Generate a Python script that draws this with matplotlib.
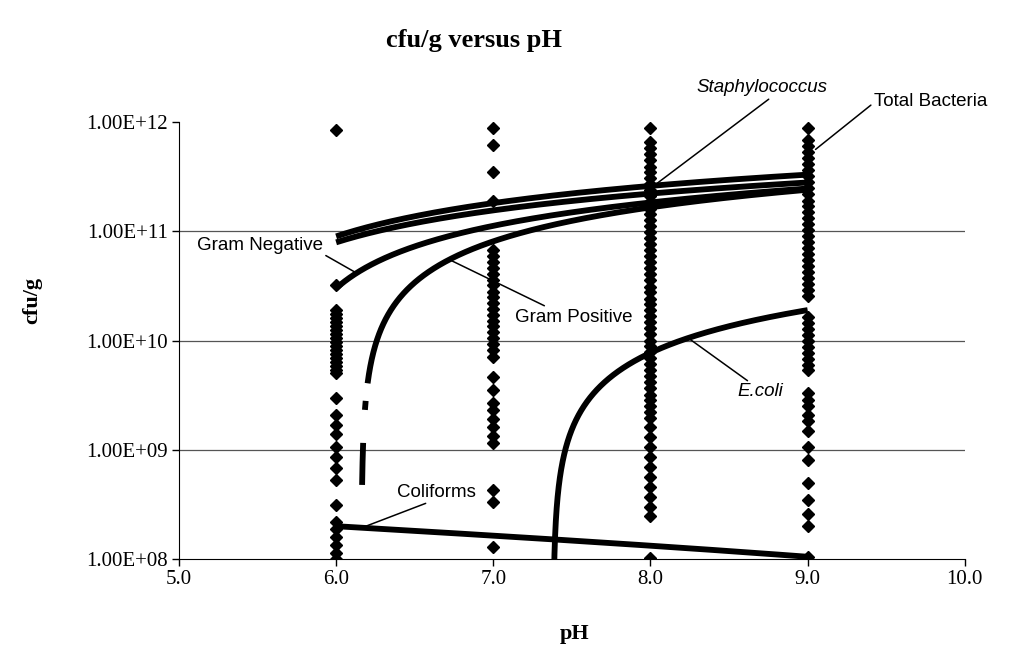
import numpy as np
import matplotlib
matplotlib.use("Agg")
import matplotlib.pyplot as plt
from matplotlib.ticker import FuncFormatter

# scatter data (cfu/g), one list per pH column
ph_values = [6.0, 7.0, 8.0, 9.0]
cfu_ph6 = [8.4e11, 3.2e10, 1.9e10, 1.75e10, 1.6e10, 1.47e10, 1.35e10, 1.25e10, 1.15e10,
           1.05e10, 9.7e9, 8.9e9, 8.2e9, 7.5e9, 6.9e9, 6.3e9, 5.8e9, 5.4e9, 5.0e9,
           3.0e9, 2.1e9, 1.7e9, 1.4e9, 1.06e9, 8.6e8, 6.8e8, 5.3e8, 3.1e8,
           2.2e8, 1.9e8, 1.6e8, 1.35e8, 1.13e8, 1.0e8]
cfu_ph7 = [8.8e11, 6.1e11, 3.5e11, 1.9e11,
           6.7e10, 5.9e10, 5.2e10, 4.6e10, 4.1e10, 3.6e10, 3.2e10, 2.8e10, 2.5e10,
           2.2e10, 1.95e10, 1.7e10, 1.5e10, 1.35e10, 1.2e10, 1.05e10, 9.3e9, 8.2e9, 7.0e9,
           4.6e9, 3.5e9, 2.7e9, 2.3e9, 1.9e9, 1.6e9, 1.35e9, 1.15e9,
           4.3e8, 3.3e8, 1.29e8]
cfu_ph8 = [8.8e11, 6.5e11, 5.8e11, 5.1e11, 4.5e11, 3.9e11, 3.5e11, 3.1e11, 2.7e11,
           2.4e11, 2.1e11, 1.85e11, 1.6e11, 1.43e11, 1.26e11, 1.11e11, 9.8e10, 8.6e10,
           7.6e10, 6.7e10, 5.9e10, 5.2e10, 4.6e10, 4.1e10, 3.6e10, 3.1e10, 2.8e10,
           2.4e10, 2.15e10, 1.9e10, 1.67e10, 1.47e10, 1.3e10, 1.15e10, 1.0e10, 8.9e9,
           7.8e9, 6.9e9, 6.1e9, 5.4e9, 4.7e9, 4.2e9, 3.7e9, 3.2e9, 2.85e9, 2.5e9,
           2.2e9, 1.95e9, 1.6e9, 1.3e9, 1.06e9, 8.6e8, 6.9e8, 5.6e8, 4.6e8, 3.7e8,
           3.0e8, 2.5e8, 1.02e8]
cfu_ph9 = [8.8e11, 6.8e11, 6.0e11, 5.3e11, 4.7e11, 4.1e11, 3.6e11, 3.2e11, 2.8e11,
           2.5e11, 2.2e11, 1.9e11, 1.7e11, 1.5e11, 1.32e11, 1.16e11, 1.02e11, 9.0e10,
           7.9e10, 7.0e10, 6.2e10, 5.4e10, 4.8e10, 4.2e10, 3.7e10, 3.3e10, 2.9e10,
           2.55e10, 1.64e10, 1.44e10, 1.27e10, 1.12e10, 9.9e9, 8.7e9, 7.7e9, 6.8e9,
           6.0e9, 5.4e9, 3.3e9, 2.85e9, 2.5e9, 2.1e9, 1.83e9, 1.5e9, 1.06e9, 8.1e8,
           5.0e8, 3.5e8, 2.6e8, 2.0e8, 1.04e8]

# logarithmic trend lines  y = slope*ln(pH) + intercept
trend_names = ["Total Bacteria", "Staphylococcus", "Gram Negative",
               "Gram Positive", "E.coli", "Coliforms"]
trend_slope = [5.92e11, 4.94e11, 5.33e11, 6.33e11, 9.57e10, -2.34e8]
trend_intercept = [-9.71e11, -8.06e11, -9.25e11, -1.1509e12, -1.9129e11, 6.19e8]
trend_start = [6.0, 6.0, 6.0, 6.1652, 7.3805, 6.0]
trend_end = [9.0, 9.0, 9.0, 9.0, 9.0, 9.0]

x_ticks = [5.0, 6.0, 7.0, 8.0, 9.0, 10.0]
y_ticks = [1e8, 1e9, 1e10, 1e11, 1e12]


def trend(i, x):
    return trend_slope[i] * np.log(x) + trend_intercept[i]


plt.rcParams["font.family"] = ["Liberation Serif", "DejaVu Serif"]

fig = plt.figure(figsize=(10.14, 6.52), dpi=100)
ax = fig.add_axes([0.1765, 0.1426, 0.775, 0.6703])

for ph, vals in zip(ph_values, [cfu_ph6, cfu_ph7, cfu_ph8, cfu_ph9]):
    ax.plot([ph] * len(vals), vals, linestyle="none", marker="D", ms=5.8,
            color="black", zorder=3)

for i, name in enumerate(trend_names):
    xs = np.linspace(trend_start[i], trend_end[i], 3000)
    ys = trend(i, xs)
    if name == "Gram Positive":
        # broken bits near the root, like the scanned chart
        gap = ((xs > 6.172) & (xs < 6.183)) | ((xs > 6.188) & (xs < 6.2))
        ys = np.where(gap, np.nan, ys)
    ys = np.where(ys > 0, ys, np.nan)
    ax.plot(xs, ys, color="black", lw=4.2, solid_capstyle="butt", zorder=4)

ax.set_yscale("log")
ax.set_xlim(5, 10)
ax.set_ylim(1e8, 1e12)
ax.set_xticks(x_ticks)
ax.set_yticks(y_ticks)
ax.minorticks_off()
ax.xaxis.set_major_formatter(FuncFormatter(lambda v, p: f"{v:.1f}"))
ax.yaxis.set_major_formatter(FuncFormatter(lambda v, p: f"{v:.2E}"))
ax.tick_params(labelsize=15, length=5, width=1, direction="out", pad=3)
for t in y_ticks[1:-1]:
    ax.axhline(t, color="#555555", lw=0.9, zorder=1)
ax.spines["top"].set_visible(False)
ax.spines["right"].set_visible(False)

lab = dict(family=["Liberation Sans", "DejaVu Sans"], fontsize=13.5)
line = dict(arrowstyle="-", lw=1.1, color="black", shrinkA=0, shrinkB=0)

# label, curve index, anchor x on its curve, text position, alignment, leader start on text
labels = [
    ("Staphylococcus", 1, 7.95, (8.709, 2.05e12), "center", (0.58, 0.0), "italic"),
    ("Total Bacteria", 0, 9.05, (9.42, 1.55e12), "left", (0.0, 0.4), "normal"),
    ("Gram Negative", 2, 6.13, (5.115, 7.48e10), "left", (0.97, 0.1), "normal"),
    ("Gram Positive", 3, 6.72, (7.137, 1.64e10), "left", (0.3, 1.0), "normal"),
    ("E.coli", 4, 8.24, (8.70, 3.38e9), "center", (0.3, 1.0), "italic"),
    ("Coliforms", 5, 6.164, (6.641, 4.1e8), "center", (0.45, 0.0), "normal"),
]
for text, idx, xa, pos, ha, rel, style in labels:
    ya = trend(idx, xa)
    if text == "Total Bacteria":
        ya = trend(idx, 9.0) * 1.7
    ax.annotate(text, xy=(xa, ya), xytext=pos, ha=ha, va="center",
                style=style, arrowprops=dict(relpos=rel, **line),
                annotation_clip=False, zorder=5, **lab)

fig.text(474 / 1014, 1 - 40 / 652, "cfu/g versus pH", ha="center", va="center",
         fontsize=19, fontweight="bold")
fig.text(575 / 1014, 1 - 634 / 652, "pH", ha="center", va="center",
         fontsize=16, fontweight="bold")
fig.text(32 / 1014, 1 - 300 / 652, "cfu/g", ha="center", va="center",
         fontsize=16, fontweight="bold", rotation=90)

fig.savefig("out.png", dpi=100)
